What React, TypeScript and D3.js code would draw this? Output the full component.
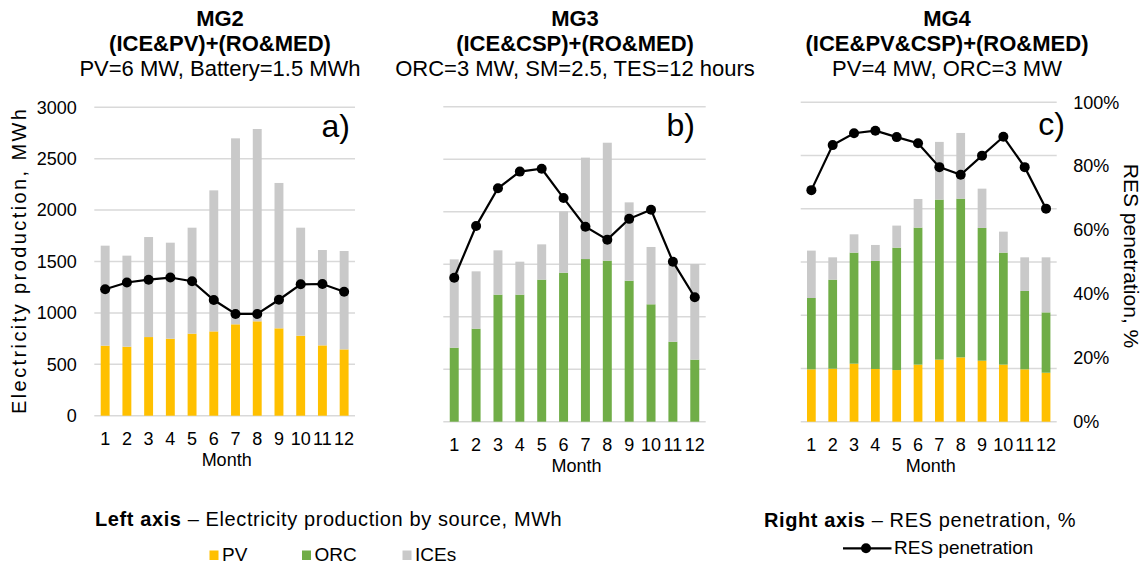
import React, { useEffect, useRef } from 'react'
import * as d3 from 'd3'

const W = 1147
const H = 568
const FONT = '"Liberation Sans", Arial, Helvetica, sans-serif'

// months on the x axis
const months = [1, 2, 3, 4, 5, 6, 7, 8, 9, 10, 11, 12]

// MG2 (ICE&PV)+(RO&MED), MWh and %
const mg2PV = [681, 671, 765, 749, 798, 820, 889, 918, 850, 778, 684, 645]
const mg2ICE = [973, 886, 973, 934, 1031, 1372, 1809, 1871, 1414, 1051, 928, 957]
const mg2RES = [41.0, 43.2, 44.1, 44.8, 43.6, 37.5, 33.0, 33.0, 37.6, 42.6, 42.7, 40.2]

// MG3 (ICE&CSP)+(RO&MED)
const mg3ORC = [705, 886, 1210, 1210, 1353, 1419, 1549, 1534, 1343, 1118, 762, 591]
const mg3ICE = [841, 546, 422, 314, 336, 584, 966, 1123, 746, 546, 730, 911]
const mg3RES = [45.7, 62.1, 74.1, 79.4, 80.3, 71.0, 61.9, 57.8, 64.4, 67.3, 50.8, 39.5]

// MG4 (ICE&PV&CSP)+(RO&MED)
const mg4PV = [492, 498, 545, 495, 485, 536, 583, 604, 573, 536, 492, 460]
const mg4ORC = [670, 836, 1043, 1015, 1150, 1287, 1503, 1491, 1247, 1052, 736, 567]
const mg4ICE = [445, 210, 172, 150, 207, 269, 542, 617, 369, 197, 316, 517]
const mg4RES = [72.5, 86.6, 90.3, 91.1, 89.1, 87.2, 79.7, 77.3, 83.3, 89.2, 79.7, 66.7]

const leftTicks = [0, 500, 1000, 1500, 2000, 2500, 3000]
const rightTicks = [0, 20, 40, 60, 80, 100]

const colors: Record<string, string> = { PV: '#FFC000', ORC: '#70AD47', ICEs: '#C9C9C9' }
const seriesKeys = ['PV', 'ORC', 'ICEs']

const titles = [
  ['MG2', '(ICE&PV)+(RO&MED)', 'PV=6 MW, Battery=1.5 MWh'],
  ['MG3', '(ICE&CSP)+(RO&MED)', 'ORC=3 MW, SM=2.5, TES=12 hours'],
  ['MG4', '(ICE&PV&CSP)+(RO&MED)', 'PV=4 MW, ORC=3 MW'],
]

const panels = [
  { tag: 'a)', pv: mg2PV, orc: null, ice: mg2ICE, res: mg2RES, title: titles[0],
    x0: 94.3, x1: 355, yTop: 107.3, yBot: 415.7, cx: 220, tagX: 350, tagY: 137, left: true, right: false },
  { tag: 'b)', pv: null, orc: mg3ORC, ice: mg3ICE, res: mg3RES, title: titles[1],
    x0: 443.3, x1: 705.7, yTop: 106.7, yBot: 421.7, cx: 575, tagX: 695, tagY: 136, left: false, right: false },
  { tag: 'c)', pv: mg4PV, orc: mg4ORC, ice: mg4ICE, res: mg4RES, title: titles[2],
    x0: 800.7, x1: 1056.7, yTop: 102.3, yBot: 421.7, cx: 947, tagX: 1065, tagY: 135, left: false, right: true },
]

export default function App() {
  const svgRef = useRef<SVGSVGElement>(null)

  useEffect(() => {
    const svg = d3.select(svgRef.current)
    svg.selectAll('*').remove()
    svg.attr('font-family', FONT)

    panels.forEach((p) => {
      const g = svg.append('g')

      // titles
      p.title.forEach((t, i) => {
        g.append('text')
          .attr('x', p.cx)
          .attr('y', 26 + i * 25)
          .attr('text-anchor', 'middle')
          .attr('font-size', 22)
          .attr('font-weight', i < 2 ? 'bold' : 'normal')
          .attr('fill', '#000')
          .text(t)
      })

      const x = d3.scaleBand<number>().domain(months).range([p.x0, p.x1]).paddingInner(0.59).paddingOuter(0.295)
      const y = d3.scaleLinear().domain([0, 3000]).range([p.yBot, p.yTop])
      const yr = d3.scaleLinear().domain([0, 100]).range([p.yBot, p.yTop])

      // gridlines
      g.append('g')
        .selectAll('line')
        .data(leftTicks)
        .join('line')
        .attr('x1', p.x0)
        .attr('x2', p.x1)
        .attr('y1', (d) => y(d))
        .attr('y2', (d) => y(d))
        .attr('stroke', '#D9D9D9')
        .attr('stroke-width', 1.5)

      // stacked bars
      const rows = months.map((m, i) => ({
        month: m,
        PV: p.pv ? p.pv[i] : 0,
        ORC: p.orc ? p.orc[i] : 0,
        ICEs: p.ice[i],
      }))
      const stacked = d3.stack<any>().keys(seriesKeys)(rows)
      g.append('g')
        .selectAll('g')
        .data(stacked)
        .join('g')
        .attr('fill', (s) => colors[s.key])
        .selectAll('rect')
        .data((s) => s.filter((d) => d[1] - d[0] > 0))
        .join('rect')
        .attr('x', (d) => x(d.data.month)!)
        .attr('width', x.bandwidth())
        .attr('y', (d) => y(d[1]))
        .attr('height', (d) => y(d[0]) - y(d[1]))

      // left axis
      if (p.left) {
        const ax = g.append('g')
          .attr('transform', `translate(${p.x0},0)`)
          .call(d3.axisLeft(y).tickValues(leftTicks).tickSize(0).tickPadding(17.5).tickFormat(d3.format('d')))
        ax.select('.domain').remove()
        ax.selectAll('text').attr('font-size', 18).attr('font-family', FONT).attr('fill', '#000')
        g.append('text')
          .attr('transform', `translate(26,${(p.yTop + p.yBot) / 2}) rotate(-90)`)
          .attr('text-anchor', 'middle')
          .attr('font-size', 20)
          .attr('textLength', 305)
          .attr('lengthAdjust', 'spacing')
          .attr('fill', '#000')
          .text('Electricity production, MWh')
      }

      // right axis
      if (p.right) {
        const ax = g.append('g')
          .attr('transform', `translate(${p.x1},0)`)
          .call(d3.axisRight(yr).tickValues(rightTicks).tickSize(0).tickPadding(16.5).tickFormat((d) => `${d}%`))
        ax.select('.domain').remove()
        ax.selectAll('text').attr('font-size', 18).attr('font-family', FONT).attr('fill', '#000')
        g.append('text')
          .attr('transform', `translate(1124,${(p.yTop + p.yBot) / 2 - 6}) rotate(90)`)
          .attr('text-anchor', 'middle')
          .attr('font-size', 21)
          .attr('fill', '#000')
          .text('RES penetration, %')
      }

      // x tick labels
      g.append('g')
        .selectAll('text')
        .data(months)
        .join('text')
        .attr('x', (m) => x(m)! + x.bandwidth() / 2)
        .attr('y', p.yBot + 29.5)
        .attr('text-anchor', 'middle')
        .attr('font-size', 18)
        .attr('fill', '#000')
        .text((m) => m)

      g.append('text')
        .attr('x', (p.x0 + p.x1) / 2 + 2)
        .attr('y', p.yBot + 50)
        .attr('text-anchor', 'middle')
        .attr('font-size', 18)
        .attr('fill', '#000')
        .text('Month')

      // RES penetration line
      const line = d3
        .line<number>()
        .x((_, i) => x(months[i])! + x.bandwidth() / 2)
        .y((d) => yr(d))
      g.append('path')
        .datum(p.res)
        .attr('d', line)
        .attr('fill', 'none')
        .attr('stroke', '#000')
        .attr('stroke-width', 2.2)
      g.append('g')
        .selectAll('circle')
        .data(p.res)
        .join('circle')
        .attr('cx', (_, i) => x(months[i])! + x.bandwidth() / 2)
        .attr('cy', (d) => yr(d))
        .attr('r', 5)
        .attr('fill', '#000')

      // panel tag
      g.append('text')
        .attr('x', p.tagX)
        .attr('y', p.tagY)
        .attr('text-anchor', 'end')
        .attr('font-size', 32)
        .attr('fill', '#000')
        .text(p.tag)
    })

    // legends
    const lg = svg.append('g').attr('fill', '#000')
    const leftTitle = lg.append('text').attr('x', 95).attr('y', 526).attr('font-size', 20).attr('letter-spacing', 0.6)
    leftTitle.append('tspan').attr('font-weight', 'bold').text('Left axis')
    leftTitle.append('tspan').text(' \u2013 Electricity production by source, MWh')

    const items = [
      { key: 'PV', x: 209.5 },
      { key: 'ORC', x: 302 },
      { key: 'ICEs', x: 402.5 },
    ]
    items.forEach((it) => {
      lg.append('rect').attr('x', it.x).attr('y', 550.5).attr('width', 9).attr('height', 9.5).attr('fill', colors[it.key])
      lg.append('text').attr('x', it.x + 12.5).attr('y', 561).attr('font-size', 19).text(it.key)
    })

    const rightTitle = lg.append('text').attr('x', 764).attr('y', 526.5).attr('font-size', 20).attr('letter-spacing', 0.6)
    rightTitle.append('tspan').attr('font-weight', 'bold').text('Right axis')
    rightTitle.append('tspan').text(' \u2013 RES penetration, %')

    lg.append('line').attr('x1', 843).attr('x2', 891.5).attr('y1', 548.3).attr('y2', 548.3).attr('stroke', '#000').attr('stroke-width', 2.2)
    lg.append('circle').attr('cx', 866).attr('cy', 548.3).attr('r', 5).attr('fill', '#000')
    lg.append('text').attr('x', 894).attr('y', 554).attr('font-size', 19).text('RES penetration')
  }, [])

  return (
    <div style={{ position: 'absolute', left: 0, top: 0, width: W, height: H, background: '#fff' }}>
      <svg ref={svgRef} width={W} height={H} style={{ display: 'block' }} />
    </div>
  )
}
